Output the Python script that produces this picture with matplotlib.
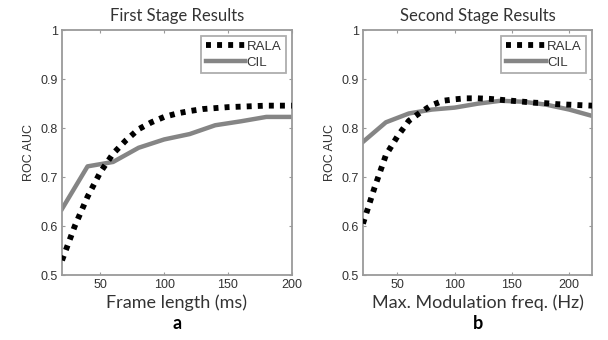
import numpy as np
import matplotlib.pyplot as plt

# (a) frame length sweep
frame_len = [20, 30, 40, 50, 60, 70, 80, 90, 100, 110, 120, 130, 140, 150, 160, 170, 180, 190, 200]
rala_a = [0.53, 0.60, 0.66, 0.71, 0.748, 0.775, 0.798, 0.812, 0.823, 0.830, 0.835, 0.839, 0.841,
          0.843, 0.844, 0.845, 0.846, 0.846, 0.846]
frame_len_cil = [20, 40, 60, 80, 100, 120, 140, 160, 180, 200]
cil_a = [0.635, 0.722, 0.731, 0.760, 0.777, 0.788, 0.806, 0.814, 0.823, 0.823]

# (b) max modulation frequency sweep
mod_freq = [20, 30, 40, 50, 60, 70, 80, 90, 100, 110, 120, 130, 140, 150, 160, 170, 180, 190, 200, 210, 220]
rala_b = [0.605, 0.678, 0.745, 0.783, 0.815, 0.832, 0.847, 0.856, 0.859, 0.861, 0.861, 0.860, 0.858,
          0.856, 0.854, 0.852, 0.851, 0.849, 0.848, 0.847, 0.846]
mod_freq_cil = [20, 40, 60, 80, 100, 120, 140, 160, 180, 200, 220]
cil_b = [0.772, 0.812, 0.830, 0.838, 0.842, 0.850, 0.856, 0.854, 0.848, 0.838, 0.825]

titles = ['First Stage Results', 'Second Stage Results']
xlabels = ['Frame length (ms)', 'Max. Modulation freq. (Hz)']
panel_tags = ['a', 'b']
yticks = [0.5, 0.6, 0.7, 0.8, 0.9, 1.0]
ytick_labels = ['0.5', '0.6', '0.7', '0.8', '0.9', '1']

txt_col = '#333333'
box_col = '#9a9a9a'

fig = plt.figure(figsize=(6.08, 3.4), dpi=100)
ax_a = fig.add_axes([0.102, 0.191, 0.378, 0.72])
ax_b = fig.add_axes([0.597, 0.191, 0.377, 0.72])

panels = [
    (ax_a, frame_len, rala_a, frame_len_cil, cil_a, (20, 200), [50, 100, 150, 200]),
    (ax_b, mod_freq, rala_b, mod_freq_cil, cil_b, (20, 220), [50, 100, 150, 200]),
]

for i, (ax, xr, yr, xc, yc, xlim, xticks) in enumerate(panels):
    ax.plot(xr, yr, color='black', lw=4.2, linestyle=(0, (0.85, 1.05)), label='RALA', zorder=3)
    ax.plot(xc, yc, color='#858585', lw=3.2, label='CIL', zorder=2)

    ax.set_xlim(*xlim)
    ax.set_ylim(0.5, 1.0)
    ax.set_xticks(xticks)
    ax.set_yticks(yticks)
    ax.set_yticklabels(ytick_labels)
    ax.tick_params(direction='in', top=True, right=True, length=2.5, width=0.8,
                   color=box_col, labelsize=9, labelcolor=txt_col, pad=3)
    for lab in ax.get_xticklabels() + ax.get_yticklabels():
        lab.set_fontname('Liberation Sans')
    for sp in ax.spines.values():
        sp.set_color(box_col)
        sp.set_linewidth(1.3)

    ax.set_title(titles[i], fontsize=12, color=txt_col, family='Lato', pad=7)
    ax.set_xlabel(xlabels[i], fontsize=13, color=txt_col, family='Lato', labelpad=2)
    ax.set_ylabel('ROC AUC', fontsize=9, color=txt_col, family='Liberation Sans', labelpad=4)
    ax.text(0.5, -0.165, panel_tags[i], transform=ax.transAxes, ha='center', va='top',
            fontsize=13, fontweight='bold', color='black', family='Lato')

    leg = ax.legend(loc='upper right', handlelength=3.0, handletextpad=0.1,
                    borderpad=0.35, labelspacing=0.25, fancybox=False, borderaxespad=0.45,
                    prop={'family': 'Liberation Sans', 'size': 9.5})
    leg.get_frame().set_edgecolor(box_col)
    leg.get_frame().set_linewidth(1.3)
    for t in leg.get_texts():
        t.set_color(txt_col)

fig.savefig('out.png', dpi=100)
